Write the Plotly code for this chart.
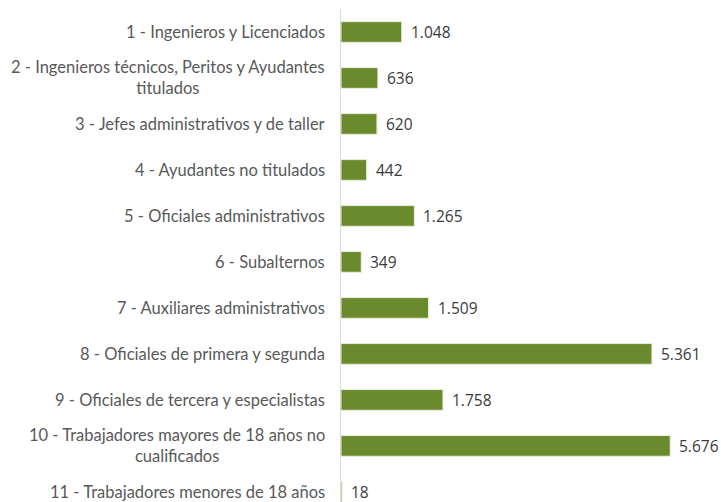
import plotly.graph_objects as go

categories = [
    "1 - Ingenieros y Licenciados",
    "2 - Ingenieros técnicos, Peritos y Ayudantes<br>titulados",
    "3 - Jefes administrativos y de taller",
    "4 - Ayudantes no titulados",
    "5 - Oficiales administrativos",
    "6 - Subalternos",
    "7 - Auxiliares administrativos",
    "8 - Oficiales de primera y segunda",
    "9 - Oficiales de tercera y especialistas",
    "10 - Trabajadores mayores de 18 años no<br>cualificados",
    "11 - Trabajadores menores de 18 años",
]
values = [1048, 636, 620, 442, 1265, 349, 1509, 5361, 1758, 5676, 18]

BAR = "#6b8a2d"

def fmt(v):
    return f"{v:,}".replace(",", ".")

fig = go.Figure(go.Bar(
    y=list(range(len(categories))),
    x=values,
    orientation="h",
    marker=dict(color=BAR, line=dict(color="#e8eedc", width=1)),
    width=0.45,
    hoverinfo="skip",
))

annotations = []
for i, (c, v) in enumerate(zip(categories, values)):
    annotations.append(dict(
        x=0, y=i, xref="x", yref="y", text=c, showarrow=False,
        xanchor="right", yanchor="middle", align="center", xshift=-14,
        font=dict(family="Lato", size=16.5, color="#595959"),
    ))
    annotations.append(dict(
        x=v, y=i, xref="x", yref="y", text=fmt(v), showarrow=False,
        xanchor="left", yanchor="middle", xshift=7,
        font=dict(family="Open Sans", size=15.5, color="#3a3a3a"),
    ))

fig.update_layout(
    width=721, height=502,
    margin=dict(l=341, r=32, t=9, b=0),
    paper_bgcolor="white", plot_bgcolor="white",
    showlegend=False,
    xaxis=dict(range=[0, 6000], showgrid=False, zeroline=False,
               showticklabels=False, showline=False, fixedrange=True),
    yaxis=dict(range=[10.22, -0.5], showgrid=False, zeroline=False,
               showticklabels=False, showline=True, linecolor="#d9d9d9",
               linewidth=1, fixedrange=True),
    annotations=annotations,
)

fig.write_html(
    "out.html",
    config={"displayModeBar": False},
    post_script="document.body.style.margin='0px';document.body.style.overflow='hidden';",
)
